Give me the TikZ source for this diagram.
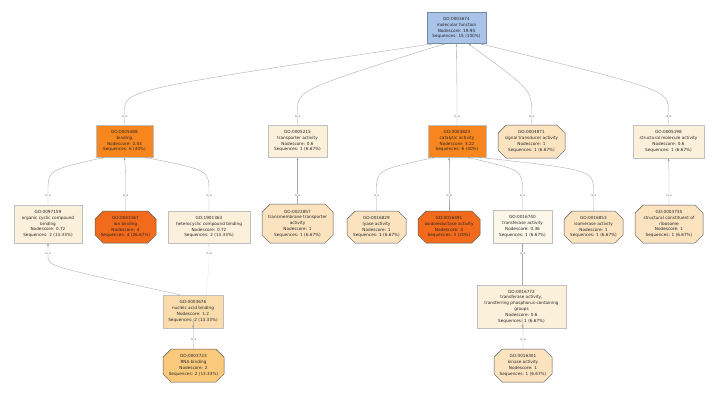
\documentclass[tikz,border=0pt]{standalone}
\usepackage{fontspec}
\setmainfont{DejaVu Sans}
\usepackage{tikz}
\usetikzlibrary{arrows.meta,shapes.misc}
\definecolor{GOBlue}{HTML}{A9C4E8}
\definecolor{GOOrange}{HTML}{F8861F}
\definecolor{GODeep}{HTML}{F26A1C}
\definecolor{GOCream}{HTML}{FBF0D9}
\definecolor{GOPale}{HTML}{FCF6E8}
\definecolor{GOPeach}{HTML}{FBE3C0}
\definecolor{GOSand}{HTML}{FBDDAD}
\definecolor{GOAmber}{HTML}{FAC97C}

\begin{document}
\begin{tikzpicture}[x=1pt,y=-1pt,font=\fontsize{4.2}{5.8}\selectfont,
  gobox/.style={rectangle,draw=black!25,line width=0.6pt,align=center,inner sep=1pt,text=black!85},
  gooct/.style={chamfered rectangle,chamfered rectangle xsep=4.5pt,draw=black!65,line width=0.5pt,align=center,inner sep=1pt,text=black!85},
  isaline/.style={draw=black!35,line width=0.35pt,-{Latex[length=2.5pt,width=2pt]}},
  isarev/.style={draw=black!35,line width=0.35pt,{Latex[length=2.5pt,width=2pt]}-},
  isalbl/.style={font=\fontsize{3}{3}\selectfont,text=black!60,fill=white,inner sep=0.2pt}]
\useasboundingbox (0,0) rectangle (727,408);
% Root
\node[gobox,fill=GOBlue,draw=GOBlue!70!black,minimum width=59,minimum height=31] (mf) at (456.5,28)
  {GO:0003674\\molecular function\\Nodescore: 19.95\\Sequences: 15 (100\%)};
% Level 2
\node[gobox,fill=GOOrange,minimum width=57,minimum height=32] (bind) at (124.5,141)
  {GO:0005488\\binding\\Nodescore: 2.53\\Sequences: 6 (40\%)};
\node[gobox,fill=GOCream,minimum width=59,minimum height=32] (trsp) at (297.5,141)
  {GO:0005215\\transporter activity\\Nodescore: 0.6\\Sequences: 1 (6.67\%)};
\node[gobox,fill=GOOrange,minimum width=58,minimum height=32] (cat) at (457,141)
  {GO:0003824\\catalytic activity\\Nodescore: 3.22\\Sequences: 6 (40\%)};
\node[gooct,fill=GOPeach,minimum width=67,minimum height=33] (sig) at (531.5,141.5)
  {GO:0004871\\signal transducer activity\\Nodescore: 1\\Sequences: 1 (6.67\%)};
\node[gobox,fill=GOCream,minimum width=71,minimum height=33] (smol) at (668.5,141.5)
  {GO:0005198\\structural molecule activity\\Nodescore: 0.6\\Sequences: 1 (6.67\%)};
% Level 3
\node[gobox,fill=GOCream,minimum width=68,minimum height=38] (orgc) at (48,224)
  {GO:0097159\\organic cyclic compound\\binding\\Nodescore: 0.72\\Sequences: 2 (13.33\%)};
\node[gooct,fill=GODeep,minimum width=61,minimum height=32] (ionb) at (125.5,227)
  {GO:0043167\\ion binding\\Nodescore: 4\\Sequences: 4 (26.67\%)};
\node[gobox,fill=GOCream,minimum width=82,minimum height=32] (hetc) at (209,227)
  {GO:1901363\\heterocyclic compound binding\\Nodescore: 0.72\\Sequences: 2 (13.33\%)};
\node[gooct,fill=GOPeach,minimum width=71,minimum height=39] (tmem) at (297.5,223.5)
  {GO:0022857\\transmembrane transporter\\activity\\Nodescore: 1\\Sequences: 1 (6.67\%)};
\node[gooct,fill=GOPeach,minimum width=59,minimum height=32] (lyas) at (376.5,227)
  {GO:0016829\\lyase activity\\Nodescore: 1\\Sequences: 1 (6.67\%)};
\node[gooct,fill=GODeep,minimum width=62,minimum height=32] (oxid) at (449,227)
  {GO:0016491\\oxidoreductase activity\\Nodescore: 3\\Sequences: 3 (20\%)};
\node[gobox,fill=GOPale,minimum width=59,minimum height=33] (trf) at (522.5,226.5)
  {GO:0016740\\transferase activity\\Nodescore: 0.36\\Sequences: 1 (6.67\%)};
\node[gooct,fill=GOPeach,minimum width=59,minimum height=32] (isom) at (593.5,227)
  {GO:0016853\\isomerase activity\\Nodescore: 1\\Sequences: 1 (6.67\%)};
\node[gooct,fill=GOPeach,minimum width=68,minimum height=38] (ribo) at (669,224)
  {GO:0003735\\structural constituent of\\ribosome\\Nodescore: 1\\Sequences: 1 (6.67\%)};
% Level 4
\node[gobox,fill=GOSand,minimum width=60,minimum height=33] (nucl) at (193,311.5)
  {GO:0003676\\nucleic acid binding\\Nodescore: 1.2\\Sequences: 2 (13.33\%)};
\node[gobox,fill=GOCream,minimum width=89,minimum height=43] (phos) at (521.5,306.5)
  {GO:0016772\\transferase activity,\\transferring phosphorus-containing\\groups\\Nodescore: 0.6\\Sequences: 1 (6.67\%)};
% Level 5
\node[gooct,fill=GOAmber,minimum width=61,minimum height=33] (rnab) at (193.5,365.5)
  {GO:0003723\\RNA binding\\Nodescore: 2\\Sequences: 2 (13.33\%)};
\node[gooct,fill=GOPeach,minimum width=58,minimum height=33] (kina) at (523,365.5)
  {GO:0016301\\kinase activity\\Nodescore: 1\\Sequences: 1 (6.67\%)};
% is_a edges (child -> parent)
\foreach \c/\p/\d/\b/\l in {bind/mf/-24/112/116, trsp/mf/-12/112/116, cat/mf/0/112/116,
    sig/mf/12/112/116, smol/mf/24/112/116,
    orgc/bind/-20/192/195, ionb/bind/0/192/195, hetc/bind/20/192/195,
    tmem/trsp/0/192/195, lyas/cat/-22/192/195, oxid/cat/-8/192/195,
    trf/cat/10/192/195, isom/cat/22/192/195, ribo/smol/0/192/195,
    rnab/nucl/0/337/339, kina/phos/1/337/339}{
  \draw[isaline] (\c.north) -- (\c.north |- 0,\b) .. controls +(0,-22) .. ([xshift=\d pt]\p.south);
  \node[isalbl] (isa-\c) at (\c.north |- 0,\l) {is a};
}
% labels sitting near the parent
\draw[isarev] (orgc.south) -- (orgc.south |- 0,256) .. controls +(0,10) .. ([xshift=-13pt]nucl.north);
\node[isalbl] (isa-orgc-nucl) at (orgc.south |- 0,253) {is a};
\draw[isarev,draw=black!10] (hetc.south) -- (hetc.south |- 0,256) .. controls +(0,10) .. ([xshift=13pt]nucl.north);
\node[isalbl] (isa-hetc-nucl) at (hetc.south |- 0,253) {is a};
\draw[isarev] (trf.south) -- (trf.south |- phos.north);
\node[isalbl] (isa-phos) at (trf.south |- 0,253) {is a};
\end{tikzpicture}
\end{document}
